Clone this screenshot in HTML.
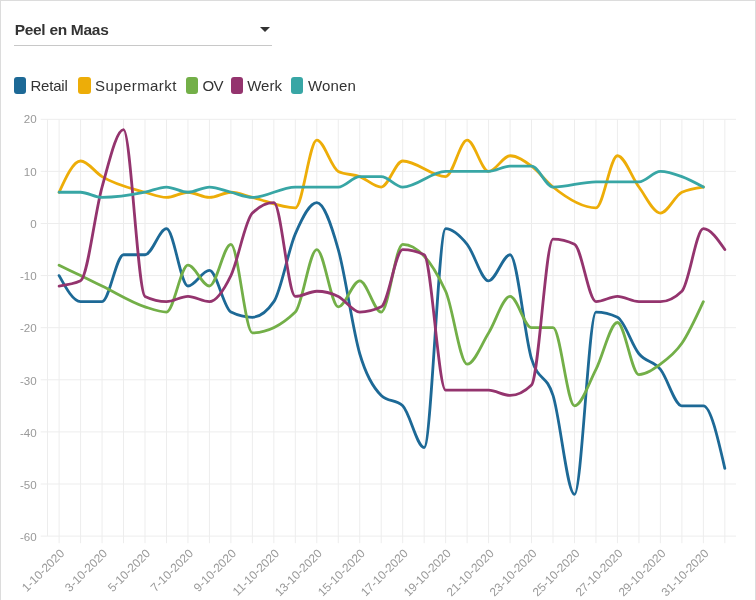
<!DOCTYPE html>
<html lang="nl"><head><meta charset="utf-8"><title>Peel en Maas</title>
<style>
html,body{margin:0;padding:0;background:#fff}
body{width:756px;height:600px;position:relative;overflow:hidden;font-family:"Liberation Sans",sans-serif}
.frame{position:absolute;left:0;top:0;width:754px;height:600px;border:1px solid #dcdcdc;border-bottom:none;box-sizing:content-box}
.dd{position:absolute;left:13.5px;top:13px;width:258.5px;height:33px;border-bottom:1px solid #c8c8c8;box-sizing:border-box}
.dd .t{position:absolute;left:1.2px;top:7.3px;font-weight:bold;font-size:15.5px;letter-spacing:-0.3px;line-height:20px;color:#333;white-space:nowrap}
.dd .a{position:absolute;left:246.5px;top:14px;width:0;height:0;border-left:5px solid transparent;border-right:5px solid transparent;border-top:5px solid #333}
.sw{position:absolute;top:77.4px;width:12.2px;height:16.2px;border-radius:3px}
.lt{position:absolute;top:76.2px;line-height:20px;font-size:15px;color:#333;white-space:nowrap}
</style></head><body>
<div class="frame"></div>
<div class="dd"><span class="t">Peel en Maas</span><span class="a"></span></div>
<div class="legend"><span class="sw" style="left:13.6px;background:#1D6996"></span><span class="lt" style="left:30.4px;letter-spacing:-0.20px">Retail</span>
<span class="sw" style="left:78.4px;background:#EDAD08"></span><span class="lt" style="left:95.0px;letter-spacing:0.42px">Supermarkt</span>
<span class="sw" style="left:185.6px;background:#73AF48"></span><span class="lt" style="left:202.6px;letter-spacing:-0.70px">OV</span>
<span class="sw" style="left:230.6px;background:#94346E"></span><span class="lt" style="left:247.2px;letter-spacing:0.05px">Werk</span>
<span class="sw" style="left:291.1px;background:#38A6A5"></span><span class="lt" style="left:307.9px;letter-spacing:0.20px">Wonen</span></div>
<svg width="756" height="600" viewBox="0 0 756 600" style="position:absolute;left:0;top:0">
<g stroke="#ededed" stroke-width="1" fill="none">
<line x1="47.5" y1="119.3" x2="47.5" y2="536.1"/>
<line x1="59.10" y1="119.3" x2="59.10" y2="543.2"/>
<line x1="80.58" y1="119.3" x2="80.58" y2="543.2"/>
<line x1="102.05" y1="119.3" x2="102.05" y2="543.2"/>
<line x1="123.53" y1="119.3" x2="123.53" y2="543.2"/>
<line x1="145.00" y1="119.3" x2="145.00" y2="543.2"/>
<line x1="166.47" y1="119.3" x2="166.47" y2="543.2"/>
<line x1="187.95" y1="119.3" x2="187.95" y2="543.2"/>
<line x1="209.43" y1="119.3" x2="209.43" y2="543.2"/>
<line x1="230.90" y1="119.3" x2="230.90" y2="543.2"/>
<line x1="252.38" y1="119.3" x2="252.38" y2="543.2"/>
<line x1="273.85" y1="119.3" x2="273.85" y2="543.2"/>
<line x1="295.33" y1="119.3" x2="295.33" y2="543.2"/>
<line x1="316.80" y1="119.3" x2="316.80" y2="543.2"/>
<line x1="338.28" y1="119.3" x2="338.28" y2="543.2"/>
<line x1="359.75" y1="119.3" x2="359.75" y2="543.2"/>
<line x1="381.23" y1="119.3" x2="381.23" y2="543.2"/>
<line x1="402.70" y1="119.3" x2="402.70" y2="543.2"/>
<line x1="424.18" y1="119.3" x2="424.18" y2="543.2"/>
<line x1="445.65" y1="119.3" x2="445.65" y2="543.2"/>
<line x1="467.13" y1="119.3" x2="467.13" y2="543.2"/>
<line x1="488.60" y1="119.3" x2="488.60" y2="543.2"/>
<line x1="510.08" y1="119.3" x2="510.08" y2="543.2"/>
<line x1="531.55" y1="119.3" x2="531.55" y2="543.2"/>
<line x1="553.02" y1="119.3" x2="553.02" y2="543.2"/>
<line x1="574.50" y1="119.3" x2="574.50" y2="543.2"/>
<line x1="595.98" y1="119.3" x2="595.98" y2="543.2"/>
<line x1="617.45" y1="119.3" x2="617.45" y2="543.2"/>
<line x1="638.93" y1="119.3" x2="638.93" y2="543.2"/>
<line x1="660.40" y1="119.3" x2="660.40" y2="543.2"/>
<line x1="681.88" y1="119.3" x2="681.88" y2="543.2"/>
<line x1="703.35" y1="119.3" x2="703.35" y2="543.2"/>
<line x1="724.83" y1="119.3" x2="724.83" y2="543.2"/>
<line x1="40.7" y1="119.30" x2="736" y2="119.30"/>
<line x1="40.7" y1="171.40" x2="736" y2="171.40"/>
<line x1="40.7" y1="223.50" x2="736" y2="223.50"/>
<line x1="40.7" y1="275.60" x2="736" y2="275.60"/>
<line x1="40.7" y1="327.70" x2="736" y2="327.70"/>
<line x1="40.7" y1="379.80" x2="736" y2="379.80"/>
<line x1="40.7" y1="431.90" x2="736" y2="431.90"/>
<line x1="40.7" y1="484.00" x2="736" y2="484.00"/>
<line x1="40.7" y1="536.10" x2="736" y2="536.10"/>
</g>
<g font-family="Liberation Sans, sans-serif" font-size="11.6" fill="#999999" text-anchor="end">
<text x="36.7" y="123.30">20</text>
<text x="36.7" y="175.56">10</text>
<text x="36.7" y="227.82">0</text>
<text x="36.7" y="280.09">-10</text>
<text x="36.7" y="332.35">-20</text>
<text x="36.7" y="384.61">-30</text>
<text x="36.7" y="436.88">-40</text>
<text x="36.7" y="489.14">-50</text>
<text x="36.7" y="541.40">-60</text>
</g>
<g font-family="Liberation Sans, sans-serif" font-size="11.9" fill="#999999" text-anchor="end">
<text transform="translate(65.10,554.1) rotate(-45)">1-10-2020</text>
<text transform="translate(108.05,554.1) rotate(-45)">3-10-2020</text>
<text transform="translate(151.00,554.1) rotate(-45)">5-10-2020</text>
<text transform="translate(193.95,554.1) rotate(-45)">7-10-2020</text>
<text transform="translate(236.90,554.1) rotate(-45)">9-10-2020</text>
<text transform="translate(279.85,554.1) rotate(-45)">11-10-2020</text>
<text transform="translate(322.80,554.1) rotate(-45)">13-10-2020</text>
<text transform="translate(365.75,554.1) rotate(-45)">15-10-2020</text>
<text transform="translate(408.70,554.1) rotate(-45)">17-10-2020</text>
<text transform="translate(451.65,554.1) rotate(-45)">19-10-2020</text>
<text transform="translate(494.60,554.1) rotate(-45)">21-10-2020</text>
<text transform="translate(537.55,554.1) rotate(-45)">23-10-2020</text>
<text transform="translate(580.50,554.1) rotate(-45)">25-10-2020</text>
<text transform="translate(623.45,554.1) rotate(-45)">27-10-2020</text>
<text transform="translate(666.40,554.1) rotate(-45)">29-10-2020</text>
<text transform="translate(709.35,554.1) rotate(-45)">31-10-2020</text>
</g>
<g fill="none" stroke-width="2.8" stroke-linecap="round" stroke-linejoin="round">
<path stroke="#1D6996" d="M59.10,275.60C66.26,288.62,73.42,301.65,80.58,301.65C87.73,301.65,94.89,301.65,102.05,301.65C109.21,301.65,116.37,254.76,123.53,254.76C130.68,254.76,137.84,254.76,145.00,254.76C152.16,254.76,159.32,228.71,166.47,228.71C173.63,228.71,180.79,286.02,187.95,286.02C195.11,286.02,202.27,270.39,209.43,270.39C216.58,270.39,223.74,308.60,230.90,312.07C238.06,315.54,245.22,317.28,252.38,317.28C259.53,317.28,266.69,312.07,273.85,301.65C281.01,291.23,288.17,250.42,295.33,233.92C302.48,217.42,309.64,202.66,316.80,202.66C323.96,202.66,331.12,224.37,338.28,249.55C345.43,274.73,352.59,329.44,359.75,353.75C366.91,378.06,374.07,388.48,381.23,395.43C388.38,402.38,395.54,398.90,402.70,405.85C409.86,412.80,417.02,447.53,424.18,447.53C431.33,447.53,438.49,228.71,445.65,228.71C452.81,228.71,459.97,235.66,467.13,244.34C474.28,253.02,481.44,280.81,488.60,280.81C495.76,280.81,502.92,254.76,510.08,254.76C517.23,254.76,524.39,335.52,531.55,358.96C538.71,382.40,545.87,372.85,553.02,395.43C560.18,418.01,567.34,494.42,574.50,494.42C581.66,494.42,588.82,312.07,595.98,312.07C603.13,312.07,610.29,313.81,617.45,317.28C624.61,320.75,631.77,345.07,638.93,353.75C646.08,362.43,653.24,360.70,660.40,369.38C667.56,378.06,674.72,405.85,681.88,405.85C689.03,405.85,696.19,405.85,703.35,405.85C710.51,405.85,717.67,437.11,724.83,468.37"/>
<path stroke="#EDAD08" d="M59.10,192.24C66.26,176.61,73.42,160.98,80.58,160.98C87.73,160.98,94.89,172.27,102.05,176.61C116.37,185.29,130.68,188.19,145.00,192.24C152.16,194.27,159.32,197.45,166.47,197.45C173.63,197.45,180.79,192.24,187.95,192.24C195.11,192.24,202.27,197.45,209.43,197.45C216.58,197.45,223.74,192.24,230.90,192.24C238.06,192.24,245.22,195.71,252.38,197.45C266.69,200.92,281.01,207.87,295.33,207.87C302.48,207.87,309.64,140.14,316.80,140.14C323.96,140.14,331.12,167.93,338.28,171.40C345.43,174.87,352.59,174.00,359.75,176.61C366.91,179.22,374.07,187.03,381.23,187.03C388.38,187.03,395.54,160.98,402.70,160.98C417.02,160.98,431.33,176.61,445.65,176.61C452.81,176.61,459.97,140.14,467.13,140.14C474.28,140.14,481.44,171.40,488.60,171.40C495.76,171.40,502.92,155.77,510.08,155.77C517.23,155.77,524.39,160.98,531.55,166.19C538.71,171.40,545.87,181.24,553.02,187.03C567.34,198.61,581.66,207.87,595.98,207.87C603.13,207.87,610.29,155.77,617.45,155.77C624.61,155.77,631.77,177.48,638.93,187.03C646.08,196.58,653.24,213.08,660.40,213.08C667.56,213.08,674.72,195.71,681.88,192.24C689.03,188.77,696.19,187.90,703.35,187.03"/>
<path stroke="#73AF48" d="M59.10,265.18C66.26,268.65,73.42,272.13,80.58,275.60C87.73,279.07,94.89,282.55,102.05,286.02C116.37,292.97,130.68,302.23,145.00,306.86C152.16,309.18,159.32,312.07,166.47,312.07C173.63,312.07,180.79,265.18,187.95,265.18C195.11,265.18,202.27,286.02,209.43,286.02C216.58,286.02,223.74,244.34,230.90,244.34C238.06,244.34,245.22,332.91,252.38,332.91C266.69,332.91,281.01,325.96,295.33,312.07C302.48,305.12,309.64,249.55,316.80,249.55C323.96,249.55,331.12,306.86,338.28,306.86C345.43,306.86,352.59,280.81,359.75,280.81C366.91,280.81,374.07,312.07,381.23,312.07C388.38,312.07,395.54,244.34,402.70,244.34C417.02,244.34,431.33,259.97,445.65,291.23C452.81,306.86,459.97,364.17,467.13,364.17C474.28,364.17,481.44,344.20,488.60,332.91C495.76,321.62,502.92,296.44,510.08,296.44C517.23,296.44,524.39,327.70,531.55,327.70C538.71,327.70,545.87,327.70,553.02,327.70C560.18,327.70,567.34,405.85,574.50,405.85C581.66,405.85,588.82,383.27,595.98,369.38C603.13,355.49,610.29,322.49,617.45,322.49C624.61,322.49,631.77,374.59,638.93,374.59C646.08,374.59,653.24,369.38,660.40,364.17C667.56,358.96,674.72,353.75,681.88,343.33C689.03,332.91,696.19,317.28,703.35,301.65"/>
<path stroke="#94346E" d="M59.10,286.02C66.26,285.15,73.42,284.28,80.58,280.81C87.73,277.34,94.89,212.21,102.05,187.03C109.21,161.85,116.37,129.72,123.53,129.72C130.68,129.72,137.84,292.97,145.00,296.44C152.16,299.91,159.32,301.65,166.47,301.65C173.63,301.65,180.79,296.44,187.95,296.44C195.11,296.44,202.27,301.65,209.43,301.65C216.58,301.65,223.74,290.36,230.90,275.60C238.06,260.84,245.22,220.03,252.38,213.08C259.53,206.13,266.69,202.66,273.85,202.66C281.01,202.66,288.17,296.44,295.33,296.44C302.48,296.44,309.64,291.23,316.80,291.23C323.96,291.23,331.12,292.97,338.28,296.44C345.43,299.91,352.59,312.07,359.75,312.07C366.91,312.07,374.07,310.33,381.23,306.86C388.38,303.39,395.54,249.55,402.70,249.55C409.86,249.55,417.02,251.29,424.18,254.76C431.33,258.23,438.49,390.22,445.65,390.22C452.81,390.22,459.97,390.22,467.13,390.22C474.28,390.22,481.44,390.22,488.60,390.22C495.76,390.22,502.92,395.43,510.08,395.43C517.23,395.43,524.39,391.96,531.55,385.01C538.71,378.06,545.87,239.13,553.02,239.13C560.18,239.13,567.34,240.87,574.50,244.34C581.66,247.81,588.82,301.65,595.98,301.65C603.13,301.65,610.29,296.44,617.45,296.44C624.61,296.44,631.77,301.65,638.93,301.65C646.08,301.65,653.24,301.65,660.40,301.65C667.56,301.65,674.72,298.18,681.88,291.23C689.03,284.28,696.19,228.71,703.35,228.71C710.51,228.71,717.67,239.13,724.83,249.55"/>
<path stroke="#38A6A5" d="M59.10,192.24C66.26,192.24,73.42,192.24,80.58,192.24C87.73,192.24,94.89,197.45,102.05,197.45C116.37,197.45,130.68,195.13,145.00,192.24C152.16,190.79,159.32,187.03,166.47,187.03C173.63,187.03,180.79,192.24,187.95,192.24C195.11,192.24,202.27,187.03,209.43,187.03C216.58,187.03,223.74,190.50,230.90,192.24C238.06,193.98,245.22,197.45,252.38,197.45C266.69,197.45,281.01,187.03,295.33,187.03C302.48,187.03,309.64,187.03,316.80,187.03C323.96,187.03,331.12,187.03,338.28,187.03C345.43,187.03,352.59,176.61,359.75,176.61C366.91,176.61,374.07,176.61,381.23,176.61C388.38,176.61,395.54,187.03,402.70,187.03C417.02,187.03,431.33,171.40,445.65,171.40C452.81,171.40,459.97,171.40,467.13,171.40C474.28,171.40,481.44,171.40,488.60,171.40C495.76,171.40,502.92,166.19,510.08,166.19C517.23,166.19,524.39,166.19,531.55,166.19C538.71,166.19,545.87,187.03,553.02,187.03C567.34,187.03,581.66,181.82,595.98,181.82C603.13,181.82,610.29,181.82,617.45,181.82C624.61,181.82,631.77,181.82,638.93,181.82C646.08,181.82,653.24,171.40,660.40,171.40C667.56,171.40,674.72,174.00,681.88,176.61C689.03,179.22,696.19,183.12,703.35,187.03"/>
</g>
</svg>
</body></html>
